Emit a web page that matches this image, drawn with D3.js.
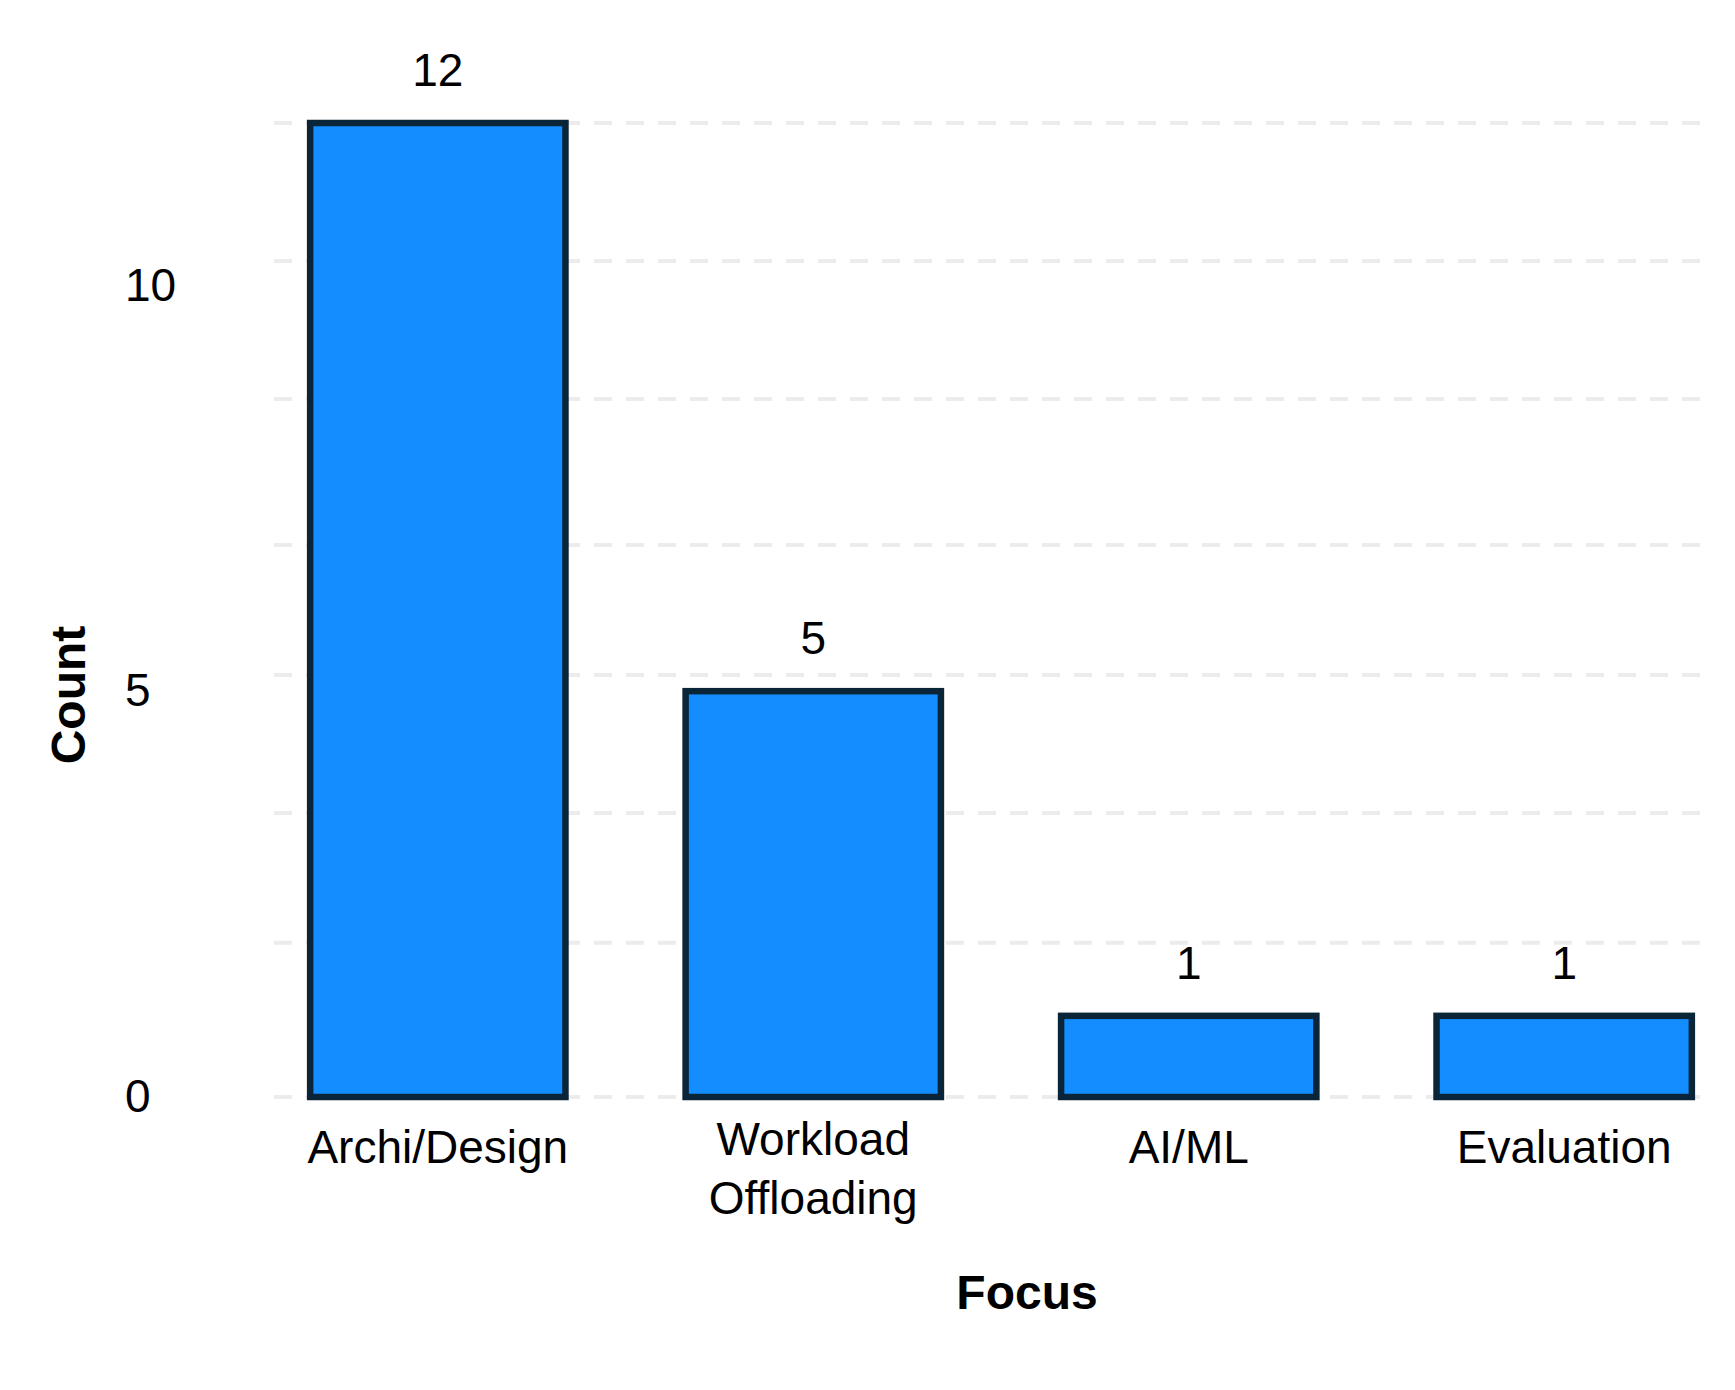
<!DOCTYPE html>
<html>
<head>
<meta charset="utf-8">
<script src="https://cdn.jsdelivr.net/npm/d3@7"></script>
<style>
  html, body { margin: 0; padding: 0; background: #ffffff; }
  svg { display: block; }
  text { font-family: "Liberation Sans", Arial, sans-serif; fill: #000; }
</style>
</head>
<body>
<svg id="chart" width="1735" height="1390"></svg>
<script>
// ---- data ----
const categories = ["Archi/Design", "Workload\nOffloading", "AI/ML", "Evaluation"];
const counts = [12, 5, 1, 1];
const yTickValues = [0, 5, 10];
const gridValues = [0, 1.9, 3.5, 5.2, 6.8, 8.6, 10.3, 12];
const xTitle = "Focus";
const yTitle = "Count";

// ---- layout ----
const W = 1735, H = 1390;
const svg = d3.select("#chart");

const x = d3.scaleBand()
  .domain(categories)
  .range([190, 1812])
  .padding(0.32);

const y = d3.scaleLinear()
  .domain([0, 12])
  .range([1097, 123]);

// gridlines
svg.append("g").selectAll("line")
  .data(gridValues)
  .join("line")
  .attr("x1", 274)
  .attr("x2", 1704)
  .attr("y1", d => y(d))
  .attr("y2", d => y(d))
  .attr("stroke", "#ececec")
  .attr("stroke-width", 4)
  .attr("stroke-dasharray", "18 14");

// bars
svg.append("g").selectAll("rect")
  .data(counts)
  .join("rect")
  .attr("x", (d, i) => x(categories[i]))
  .attr("width", x.bandwidth())
  .attr("y", d => y(d))
  .attr("height", d => y(0) - y(d))
  .attr("fill", "#138dff")
  .attr("stroke", "#0a2438")
  .attr("stroke-width", 6.5);

// value labels
svg.append("g").selectAll("text")
  .data(counts)
  .join("text")
  .attr("x", (d, i) => x(categories[i]) + x.bandwidth() / 2)
  .attr("y", d => y(d) - 37)
  .attr("text-anchor", "middle")
  .attr("font-size", 46)
  .text(d => d);

// y axis (no line, left-aligned labels)
const yAxis = d3.axisLeft(y).tickValues(yTickValues).tickSize(0).tickFormat(d3.format("d"));
const gy = svg.append("g").attr("transform", "translate(125,0)").call(yAxis);
gy.select(".domain").remove();
gy.selectAll("text")
  .attr("x", 0)
  .attr("text-anchor", "start")
  .attr("font-size", 46)
  .attr("font-family", "Liberation Sans, Arial, sans-serif")
  .attr("fill", "#000");

// x axis category labels
const xAxis = d3.axisBottom(x).tickSize(0).tickFormat(() => "");
const gx = svg.append("g").attr("transform", `translate(0,${y(0)})`).call(xAxis);
gx.select(".domain").remove();
gx.selectAll(".tick").each(function(d) {
  const lines = d.split("\n");
  const t = d3.select(this).select("text")
    .attr("y", 0)
    .attr("dy", null)
    .attr("text-anchor", "middle")
    .attr("font-size", 46)
    .attr("font-family", "Liberation Sans, Arial, sans-serif")
    .attr("fill", "#000");
  const base = lines.length > 1 ? 58 : 66;
  lines.forEach((ln, k) => {
    t.append("tspan").attr("x", 0).attr("y", base + k * 59).text(ln);
  });
});

// axis titles
svg.append("text")
  .attr("x", 1027)
  .attr("y", 1309)
  .attr("text-anchor", "middle")
  .attr("font-size", 48)
  .attr("font-weight", "bold")
  .text(xTitle);

svg.append("text")
  .attr("transform", "translate(85,695) rotate(-90)")
  .attr("text-anchor", "middle")
  .attr("font-size", 48)
  .attr("font-weight", "bold")
  .text(yTitle);
</script>
</body>
</html>
